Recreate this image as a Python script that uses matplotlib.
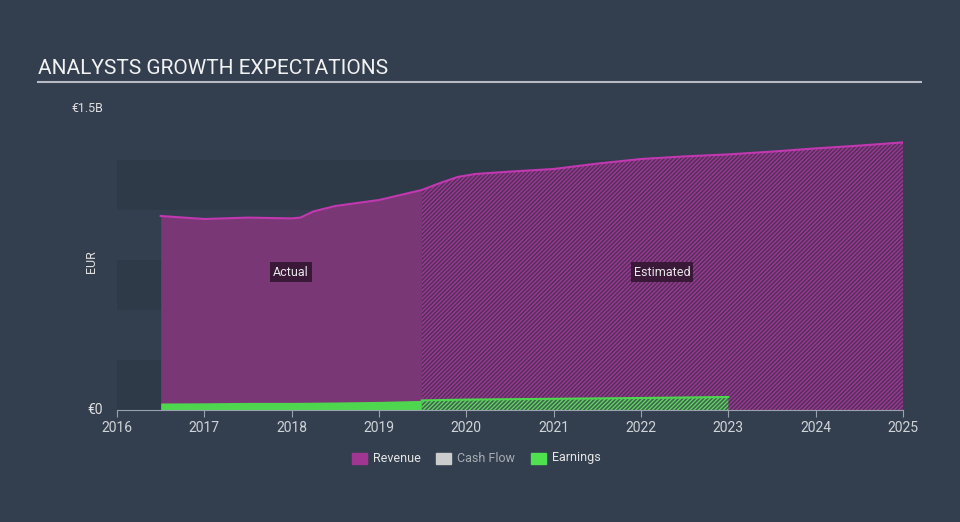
import matplotlib.pyplot as plt
import matplotlib as mpl

plt.rcParams['font.family'] = ['Roboto', 'DejaVu Sans']
mpl.rcParams['hatch.linewidth'] = 0.9

# Revenue (EUR billions)
rev_years = [2016.5, 2017.0, 2017.5, 2018.0, 2018.1, 2018.25, 2018.5, 2019.0, 2019.49,
             2019.7, 2019.9, 2020.1, 2020.5, 2021.0, 2021.5, 2022.0, 2022.5, 2023.0,
             2023.5, 2024.0, 2024.5, 2025.0]
rev_vals = [0.97, 0.955, 0.962, 0.958, 0.962, 0.993, 1.02, 1.05, 1.10,
            1.135, 1.165, 1.18, 1.192, 1.205, 1.232, 1.255, 1.268, 1.278,
            1.292, 1.308, 1.322, 1.338]

# Earnings (EUR billions)
earn_years = [2016.5, 2017.0, 2017.5, 2018.0, 2018.5, 2019.0, 2019.49, 2020.0, 2021.0,
              2022.0, 2023.0]
earn_vals = [0.035, 0.036, 0.038, 0.038, 0.040, 0.043, 0.048, 0.052, 0.056, 0.060, 0.065]

split = 2019.49

bg = '#333f4f'
band = '#2f3a49'
fig = plt.figure(figsize=(9.6, 5.22), dpi=100, facecolor=bg)
ax = fig.add_axes([117 / 960, (522 - 410) / 522, (903 - 117) / 960, 300 / 522])
ax.set_facecolor(bg)
ax.set_xlim(2016, 2025.0)
ax.set_ylim(0, 1.5)

# background bands
for lo in [0.0, 0.5, 1.0]:
    ax.axhspan(lo, lo + 0.25, color=band, lw=0, zorder=0)

ra = [(x, y) for x, y in zip(rev_years, rev_vals) if x <= split]
re = [(x, y) for x, y in zip(rev_years, rev_vals) if x >= split]
ea = [(x, y) for x, y in zip(earn_years, earn_vals) if x <= split]
ee = [(x, y) for x, y in zip(earn_years, earn_vals) if x >= split]

rx, ry = zip(*ra)
ax.fill_between(rx, ry, color='#7a3775', lw=0, zorder=1)
rx2, ry2 = zip(*re)
ax.fill_between(rx2, ry2, facecolor='#5b2d5e', edgecolor='#9b3d96', hatch='////////', lw=0, zorder=1)
ax.plot(rev_years, rev_vals, color='#c238b0', lw=1.5, zorder=3)

ex, ey = zip(*ea)
ax.fill_between(ex, ey, color='#4fd64f', lw=0, zorder=2)
ex2, ey2 = zip(*ee)
ax.fill_between(ex2, ey2, facecolor='#3a6a4a', edgecolor='#6ad46a', hatch='////////', lw=0, zorder=2)
i0 = earn_years.index(split)
ax.plot(earn_years[i0:], earn_vals[i0:], color='#4fd64f', lw=1.5, zorder=3)

for label, xpos in [('Actual', 2017.99), ('Estimated', 2022.24)]:
    ax.text(xpos, 0.69, label, color='#e8e8e8', fontsize=9, ha='center', va='center', zorder=5,
            bbox=dict(boxstyle='square,pad=0.25', fc='#3a1838', ec='none'))

ax.set_xticks(range(2016, 2026))
ax.set_xticklabels([str(y) for y in range(2016, 2026)], color='#d0d4d8', fontsize=10)
ax.tick_params(axis='x', length=5, color='#9aa3ad', pad=3)
ax.set_yticks([])
for s in ['top', 'right', 'left']:
    ax.spines[s].set_visible(False)
ax.spines['bottom'].set_color('#9aa3ad')

fig.text(103 / 960, 1 - 410 / 522, '€0', color='#e0e0e0', fontsize=10, ha='right', va='center')
fig.text(103 / 960, 1 - 109 / 522, '€1.5B', color='#e0e0e0', fontsize=9, ha='right', va='center')
fig.text(92 / 960, 1 - 262 / 522, 'EUR', color='#e0e0e0', fontsize=9, rotation=90, ha='center', va='center')

fig.text(38 / 960, 1 - 68 / 522, 'ANALYSTS GROWTH EXPECTATIONS', color='#f2f2f2', fontsize=15, ha='left', va='center')
fig.add_artist(plt.Line2D([38 / 960, 921 / 960], [1 - 82 / 522, 1 - 82 / 522], color='#b8bcc2', lw=1.5))

# legend
items = [('Revenue', '#a03592', '#e6e6e6', 352), ('Cash Flow', '#cccccc', '#a8adb3', 436), ('Earnings', '#4fe04f', '#e6e6e6', 531)]
for name, c, tc, x0 in items:
    fig.patches.append(mpl.patches.Rectangle((x0 / 960, 1 - 464 / 522), 15 / 960, 11 / 522,
                                             transform=fig.transFigure, color=c))
    fig.text((x0 + 21) / 960, 1 - 458 / 522, name, color=tc, fontsize=9, ha='left', va='center')

fig.savefig('out.png', dpi=100, facecolor=bg)
